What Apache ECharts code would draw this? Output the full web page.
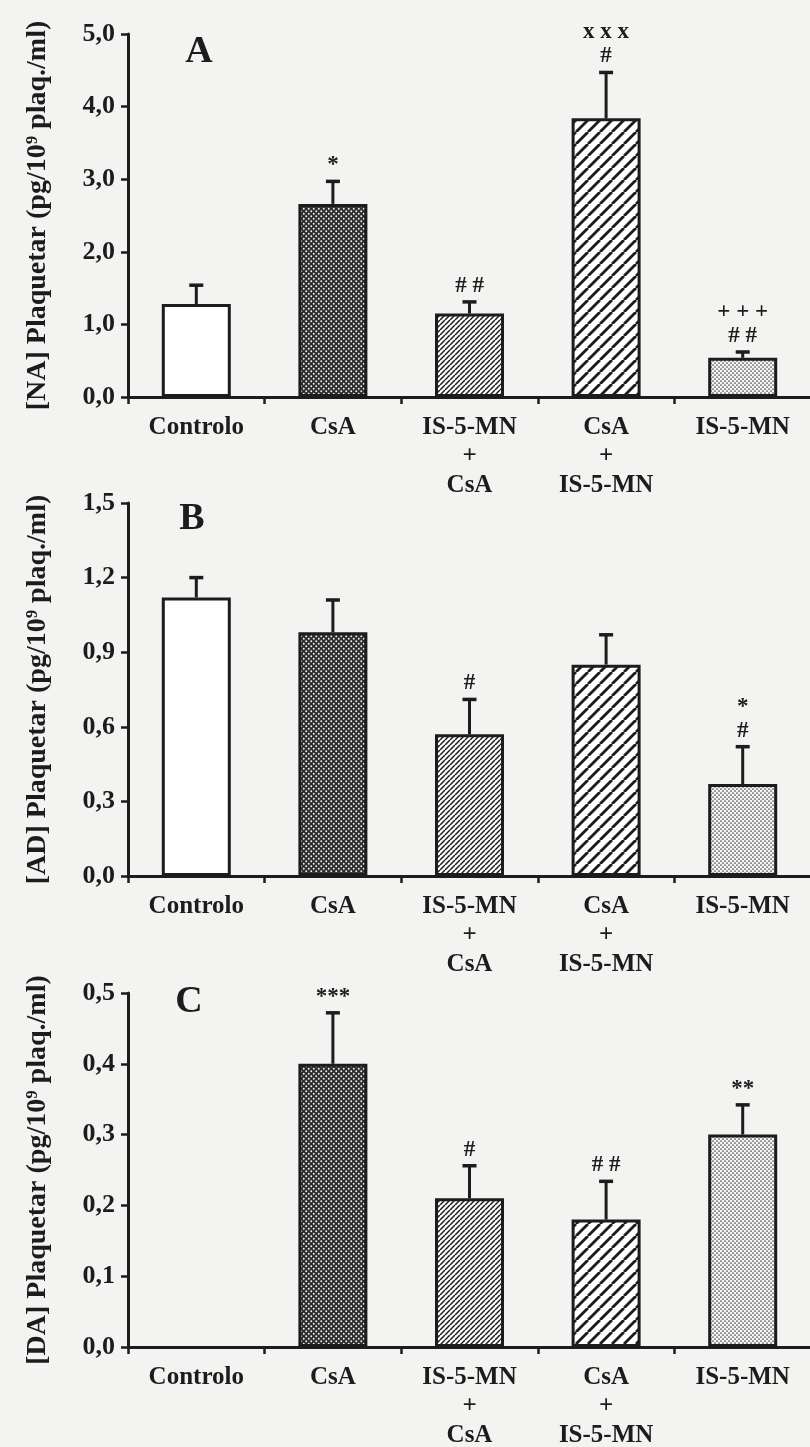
<!DOCTYPE html>
<html>
<head>
<meta charset="utf-8">
<script src="https://cdn.jsdelivr.net/npm/echarts@6/dist/echarts.min.js"></script>
<style>
html,body{margin:0;padding:0;background:#f3f3f2;}
#chart{width:810px;height:1447px;}
</style>
</head>
<body>
<div id="chart"></div>
<script>
// ---------- data ----------
const categories = ['Controlo', 'CsA', 'IS-5-MN\n+\nCsA', 'CsA\n+\nIS-5-MN', 'IS-5-MN'];

const naMean = [1.28, 2.66, 1.15, 3.84, 0.54];
const naSem  = [0.26, 0.31, 0.16, 0.63, 0.08];
const naMarks = ['', '*', '# #', 'x x x\n#', '+ + +\n# #'];

const adMean = [1.12, 0.98, 0.57, 0.85, 0.37];
const adSem  = [0.08, 0.13, 0.14, 0.12, 0.15];
const adMarks = ['', '', '#', '', '*\n#'];

const daMean = [null, 0.40, 0.21, 0.18, 0.30];
const daSem  = [null, 0.072, 0.046, 0.054, 0.042];
const daMarks = ['', '***', '#', '# #', '**'];

const panelLetters = ['A', 'B', 'C'];
const axisTitles = ['[NA] Plaquetar (pg/10⁹ plaq./ml)', '[AD] Plaquetar (pg/10⁹ plaq./ml)', '[DA] Plaquetar (pg/10⁹ plaq./ml)'];
const yMax = [5, 1.5, 0.5];
const yInterval = [1, 0.3, 0.1];

// ---------- styles ----------
const INK = '#1c1c1c';
const FONT = '"Liberation Serif", "Times New Roman", serif';

function makeCanvas(s) { const c = document.createElement('canvas'); c.width = s; c.height = s; return c; }
function dotPattern(size, bg, dot, r) {
  const c = makeCanvas(size), g = c.getContext('2d');
  g.fillStyle = bg; g.fillRect(0, 0, size, size);
  g.fillStyle = dot;
  [[size / 4, size / 4], [3 * size / 4, 3 * size / 4]].forEach(p => { g.beginPath(); g.arc(p[0], p[1], r, 0, Math.PI * 2); g.fill(); });
  return { image: c, repeat: 'repeat' };
}
function hatchPattern(size, lw) {
  const c = makeCanvas(size), g = c.getContext('2d');
  g.fillStyle = '#ffffff'; g.fillRect(0, 0, size, size);
  g.strokeStyle = INK; g.lineWidth = lw;
  for (let o = -size; o <= size; o += size) { g.beginPath(); g.moveTo(o, size); g.lineTo(o + size, 0); g.stroke(); }
  return { image: c, repeat: 'repeat' };
}
const fills = [
  '#ffffff',
  dotPattern(5, '#2e2e2e', '#f0f0f0', 0.95),
  hatchPattern(5, 1.5),
  hatchPattern(12, 2.8),
  dotPattern(4, '#f4f4f4', '#4a4a4a', 0.85)
];

const grids = [
  { left: 128, top: 34, width: 683, height: 363, outerBoundsMode: 'none', containLabel: false },
  { left: 128, top: 503, width: 683, height: 373, outerBoundsMode: 'none', containLabel: false },
  { left: 128, top: 993, width: 683, height: 354, outerBoundsMode: 'none', containLabel: false }
];

const means = [naMean, adMean, daMean];
const sems = [naSem, adSem, daSem];
const marks = [naMarks, adMarks, daMarks];

const xAxes = [], yAxes = [], series = [], graphics = [];
for (let k = 0; k < 3; k++) {
  xAxes.push({
    type: 'category', gridIndex: k, data: categories, boundaryGap: true,
    axisLine: { lineStyle: { color: INK, width: 3 } },
    axisTick: { show: true, alignWithLabel: false, length: 7, lineStyle: { color: INK, width: 2.5 } },
    axisLabel: { color: INK, fontFamily: FONT, fontWeight: 'bold', fontSize: 25, lineHeight: 29, margin: 16, interval: 0 }
  });
  yAxes.push({
    type: 'value', gridIndex: k, min: 0, max: yMax[k], interval: yInterval[k],
    splitLine: { show: false },
    axisLine: { show: true, lineStyle: { color: INK, width: 3 } },
    axisTick: { show: true, length: 7, lineStyle: { color: INK, width: 2.5 } },
    axisLabel: { color: INK, fontFamily: FONT, fontWeight: 'bold', fontSize: 26, margin: 13,
      formatter: v => v.toFixed(1).replace('.', ',') },
    name: axisTitles[k], nameLocation: 'middle', nameRotate: 90, nameGap: 76,
    nameTextStyle: { color: INK, fontFamily: FONT, fontWeight: 'bold', fontSize: 28 }
  });
  series.push({
    type: 'bar', xAxisIndex: k, yAxisIndex: k, barWidth: 69, z: 2,
    data: means[k].map((v, i) => v == null ? '-' : { value: v, itemStyle: { color: fills[i] } }),
    itemStyle: { borderColor: INK, borderWidth: 3 },
    emphasis: { disabled: true }
  });
  const mk = marks[k];
  series.push({
    type: 'custom', xAxisIndex: k, yAxisIndex: k, z: 5,
    data: means[k].map((v, i) => [i, v == null ? NaN : v, sems[k][i] == null ? NaN : sems[k][i]]),
    renderItem: function (params, api) {
      const v = api.value(1), e = api.value(2);
      if (isNaN(v)) return null;
      const p0 = api.coord([api.value(0), v]);
      const p1 = api.coord([api.value(0), v + e]);
      const children = [
        { type: 'line', shape: { x1: p0[0], y1: p0[1], x2: p1[0], y2: p1[1] }, style: { stroke: INK, lineWidth: 3 } },
        { type: 'line', shape: { x1: p1[0] - 7, y1: p1[1], x2: p1[0] + 7, y2: p1[1] }, style: { stroke: INK, lineWidth: 3.5 } }
      ];
      const t = mk[params.dataIndex];
      if (t) {
        children.push({ type: 'text', x: p1[0], y: p1[1] - 4,
          style: { text: t, fill: INK, fontFamily: FONT, fontWeight: 'bold', fontSize: 23, lineHeight: 24, align: 'center', verticalAlign: 'bottom' } });
      }
      return { type: 'group', children: children };
    }
  });
}
graphics.push(
  { type: 'text', x: 199, y: 52, style: { text: panelLetters[0], fill: INK, fontFamily: FONT, fontWeight: 'bold', fontSize: 38, align: 'center', verticalAlign: 'middle' } },
  { type: 'text', x: 192, y: 519, style: { text: panelLetters[1], fill: INK, fontFamily: FONT, fontWeight: 'bold', fontSize: 38, align: 'center', verticalAlign: 'middle' } },
  { type: 'text', x: 189, y: 1002, style: { text: panelLetters[2], fill: INK, fontFamily: FONT, fontWeight: 'bold', fontSize: 38, align: 'center', verticalAlign: 'middle' } }
);

const chart = echarts.init(document.getElementById('chart'), null, { renderer: 'canvas' });
chart.setOption({
  backgroundColor: '#f3f3f2',
  animation: false,
  grid: grids,
  xAxis: xAxes,
  yAxis: yAxes,
  series: series,
  graphic: graphics
});
</script>
</body>
</html>
